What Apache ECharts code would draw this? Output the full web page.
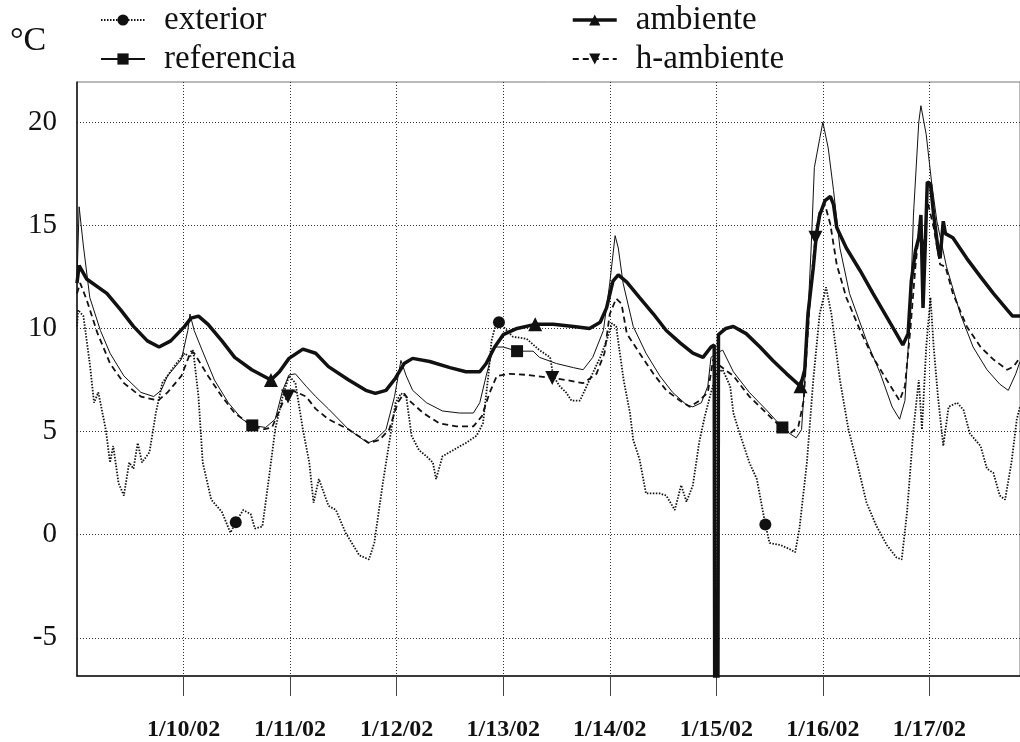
<!DOCTYPE html>
<html>
<head>
<meta charset="UTF-8"/>
<script src="https://cdn.jsdelivr.net/npm/echarts@6/dist/echarts.min.js"></script>
</head>
<body style="margin:0;background:#fff">
<div id="c" style="width:1020px;height:742px;"></div>
<script>
// x = days since 1/9/02 00:00, y = °C
const dayTicks = [1, 2, 3, 4, 5, 6, 7, 8];
const dayLabels = ['1/10/02', '1/11/02', '1/12/02', '1/13/02', '1/14/02', '1/15/02', '1/16/02', '1/17/02'];
const tempTicks = [-5, 0, 5, 10, 15, 20];

const exterior = [
  [0, 10.1], [0.01, 10.9], [0.06, 10.6], [0.12, 8.3], [0.16, 6.4], [0.20, 6.9], [0.27, 5.1], [0.31, 3.5],
  [0.34, 4.3], [0.39, 2.5], [0.44, 1.9], [0.49, 3.5], [0.53, 3.2], [0.57, 4.45], [0.61, 3.5], [0.68, 4.0],
  [0.74, 5.9], [0.80, 7.35], [0.91, 8.15], [1.01, 8.8], [1.06, 8.6], [1.09, 8.95], [1.14, 6.7], [1.18, 3.5],
  [1.26, 1.7], [1.36, 1.1], [1.44, 0.1], [1.49, 0.6], [1.56, 1.2], [1.63, 1.0], [1.67, 0.3], [1.74, 0.4],
  [1.80, 2.7], [1.86, 5.1], [1.93, 6.7], [1.99, 7.7], [2.05, 7.35], [2.12, 5.1], [2.18, 3.5], [2.22, 1.55],
  [2.27, 2.7], [2.36, 1.4], [2.43, 1.2], [2.52, 0.1], [2.65, -1.0], [2.74, -1.2], [2.79, -0.4], [2.87, 2.5],
  [2.93, 4.45], [2.99, 6.4], [3.04, 6.85], [3.09, 6.7], [3.14, 4.8], [3.21, 4.1], [3.28, 3.8], [3.34, 3.5],
  [3.37, 2.7], [3.43, 3.8], [3.53, 4.1], [3.65, 4.45], [3.75, 4.8], [3.81, 5.4], [3.86, 7.7], [3.89, 9.4],
  [3.92, 10.0], [3.96, 10.3], [4.09, 9.6], [4.22, 9.5], [4.34, 8.95], [4.44, 8.6], [4.47, 7.7], [4.53, 7.2],
  [4.59, 6.9], [4.64, 6.5], [4.72, 6.5], [4.81, 7.5], [4.91, 8.6], [4.97, 9.4], [5.02, 10.25], [5.06, 10.1],
  [5.13, 7.5], [5.19, 5.9], [5.22, 4.6], [5.28, 3.65], [5.34, 2.0], [5.41, 2.0], [5.47, 2.0], [5.53, 1.9],
  [5.61, 1.2], [5.67, 2.4], [5.72, 1.6], [5.78, 2.4], [5.84, 4.5], [5.89, 5.7], [5.94, 6.7], [6.0, 7.8],
  [6.06, 8.0], [6.13, 7.2], [6.16, 5.9], [6.22, 4.9], [6.31, 3.5], [6.38, 2.7], [6.46, 0.5], [6.50, -0.4],
  [6.6, -0.5], [6.69, -0.7], [6.74, -0.85], [6.78, 0.3], [6.85, 3.5], [6.91, 7.5], [6.97, 10.7], [7.03, 12.0],
  [7.08, 10.7], [7.16, 7.5], [7.24, 5.1], [7.32, 3.5], [7.41, 1.55], [7.50, 0.45], [7.60, -0.5], [7.69, -1.1],
  [7.74, -1.2], [7.79, 1.1], [7.85, 5.1], [7.90, 7.5], [7.93, 5.1], [7.97, 9.1], [8.01, 11.5], [8.04, 9.1],
  [8.08, 6.7], [8.13, 4.3], [8.18, 6.2], [8.26, 6.4], [8.32, 6.05], [8.38, 4.9], [8.48, 4.3], [8.54, 3.2],
  [8.60, 3.0], [8.66, 1.9], [8.71, 1.7], [8.77, 3.5], [8.82, 5.6], [8.85, 6.2]
];

const referencia = [
  [0, 12.3], [0.02, 15.9], [0.06, 14.0], [0.12, 11.5], [0.22, 9.9], [0.31, 8.8], [0.44, 7.7], [0.60, 6.9],
  [0.72, 6.7], [0.79, 7.0], [0.85, 7.7], [0.98, 8.5], [1.04, 9.9], [1.06, 10.7], [1.10, 9.9], [1.17, 9.0],
  [1.29, 7.5], [1.42, 6.4], [1.55, 5.6], [1.645, 5.3], [1.77, 5.2], [1.86, 5.6], [1.93, 7.0], [1.99, 7.75],
  [2.05, 7.8], [2.15, 7.2], [2.24, 6.7], [2.36, 6.1], [2.55, 5.1], [2.73, 4.45], [2.80, 4.6], [2.90, 5.1],
  [2.98, 6.7], [3.04, 8.45], [3.09, 7.7], [3.15, 7.0], [3.28, 6.4], [3.43, 6.0], [3.59, 5.9], [3.72, 5.9],
  [3.78, 6.4], [3.84, 7.7], [3.91, 9.1], [4.0, 9.1], [4.13, 8.9], [4.28, 8.9], [4.34, 8.6], [4.5, 8.3],
  [4.66, 8.1], [4.75, 8.0], [4.84, 8.6], [4.94, 9.9], [5.0, 12.2], [5.05, 14.5], [5.08, 13.9], [5.125, 12.2],
  [5.22, 10.1], [5.34, 8.8], [5.47, 7.7], [5.59, 6.9], [5.72, 6.3], [5.78, 6.2], [5.86, 6.4], [5.92, 7.2],
  [5.95, 8.6], [6.0, 8.8], [6.06, 8.95], [6.16, 7.9], [6.31, 6.9], [6.47, 6.05], [6.62, 5.2], [6.69, 4.9],
  [6.75, 4.7], [6.8, 5.1], [6.83, 7.5], [6.86, 10.7], [6.89, 13.9], [6.92, 17.8], [6.97, 19.2], [7.0, 20.0],
  [7.05, 18.75], [7.10, 16.7], [7.16, 13.9], [7.25, 11.7], [7.41, 9.4], [7.54, 7.8], [7.65, 6.2], [7.72, 5.6],
  [7.77, 6.5], [7.82, 10.7], [7.85, 15.5], [7.90, 20.0], [7.92, 20.8], [7.97, 19.4], [8.02, 17.1], [8.07, 15.2],
  [8.16, 13.0], [8.29, 10.7], [8.41, 9.1], [8.54, 8.0], [8.66, 7.3], [8.74, 7.0], [8.81, 7.8], [8.85, 8.4]
];

const ambiente = [
  [0, 12.2], [0.02, 13.05], [0.09, 12.4], [0.28, 11.7], [0.41, 10.9], [0.53, 10.1], [0.66, 9.4], [0.77, 9.1],
  [0.88, 9.4], [1.01, 10.1], [1.07, 10.5], [1.14, 10.6], [1.23, 10.2], [1.36, 9.4], [1.48, 8.6], [1.64, 8.0],
  [1.82, 7.5], [1.90, 7.9], [1.99, 8.55], [2.12, 9.0], [2.24, 8.8], [2.36, 8.15], [2.55, 7.5], [2.71, 7.0],
  [2.80, 6.85], [2.90, 7.0], [2.99, 7.6], [3.07, 8.3], [3.15, 8.55], [3.31, 8.4], [3.50, 8.1], [3.65, 7.9],
  [3.78, 7.9], [3.84, 8.3], [3.92, 9.1], [4.0, 9.7], [4.13, 10.0], [4.30, 10.2], [4.47, 10.2], [4.66, 10.1],
  [4.81, 10.0], [4.91, 10.3], [4.97, 11.0], [5.03, 12.3], [5.08, 12.6], [5.16, 12.25], [5.28, 11.5], [5.41, 10.7],
  [5.53, 9.9], [5.66, 9.3], [5.78, 8.8], [5.875, 8.6], [5.95, 9.1], [5.98, 9.2], [5.985, -8], [6.015, -8],
  [6.02, 9.7], [6.09, 10.0], [6.16, 10.1], [6.28, 9.75], [6.41, 9.1], [6.53, 8.45], [6.66, 7.8], [6.79, 7.2],
  [6.83, 8.0], [6.86, 10.7], [6.91, 12.95], [6.94, 14.6], [6.97, 15.5], [7.02, 16.2], [7.07, 16.4], [7.10, 16.0],
  [7.13, 14.9], [7.22, 13.9], [7.35, 12.8], [7.47, 11.7], [7.6, 10.55], [7.69, 9.75], [7.75, 9.2], [7.80, 9.75],
  [7.83, 12.3], [7.87, 13.8], [7.90, 14.4], [7.92, 15.5], [7.94, 11.0], [7.96, 13.9], [7.98, 17.1], [8.01, 17.0],
  [8.04, 15.5], [8.08, 13.9], [8.10, 13.4], [8.13, 15.2], [8.15, 14.6], [8.22, 14.4], [8.35, 13.4], [8.48, 12.5],
  [8.60, 11.7], [8.73, 10.9], [8.78, 10.6], [8.85, 10.6]
];

const hAmbiente = [
  [0, 11.7], [0.03, 12.2], [0.09, 11.4], [0.19, 9.8], [0.31, 8.3], [0.44, 7.35], [0.60, 6.7], [0.76, 6.5],
  [0.85, 6.9], [0.98, 7.7], [1.07, 8.9], [1.10, 8.8], [1.23, 7.7], [1.36, 6.7], [1.48, 5.9], [1.61, 5.4],
  [1.74, 5.1], [1.83, 5.2], [1.93, 6.4], [1.98, 6.7], [2.02, 7.0], [2.15, 6.7], [2.24, 6.1], [2.36, 5.6],
  [2.55, 5.1], [2.74, 4.45], [2.84, 4.6], [2.93, 5.1], [3.01, 6.4], [3.07, 6.85], [3.12, 6.5], [3.25, 5.9],
  [3.40, 5.4], [3.56, 5.25], [3.72, 5.25], [3.80, 5.75], [3.87, 6.85], [3.94, 7.7], [4.06, 7.8], [4.22, 7.75],
  [4.46, 7.6], [4.59, 7.5], [4.75, 7.35], [4.875, 7.8], [4.95, 8.8], [5.0, 10.7], [5.06, 11.45], [5.11, 11.2],
  [5.16, 9.75], [5.28, 8.8], [5.41, 7.8], [5.53, 7.0], [5.66, 6.5], [5.75, 6.2], [5.84, 6.5], [5.92, 6.9],
  [5.97, 8.5], [6.03, 8.2], [6.16, 7.7], [6.31, 6.7], [6.47, 5.9], [6.6, 5.25], [6.69, 4.9], [6.77, 5.25],
  [6.82, 6.5], [6.85, 9.1], [6.89, 12.3], [6.93, 14.4], [6.97, 15.7], [7.02, 16.0], [7.07, 15.05], [7.13, 13.1],
  [7.22, 11.5], [7.35, 9.9], [7.47, 8.6], [7.60, 7.5], [7.72, 6.5], [7.77, 7.2], [7.82, 9.9], [7.87, 13.1],
  [7.91, 15.05], [7.95, 13.9], [7.98, 16.2], [8.04, 14.9], [8.10, 13.1], [8.15, 13.0], [8.22, 11.7], [8.35, 10.1],
  [8.48, 9.1], [8.60, 8.5], [8.73, 8.0], [8.79, 8.15], [8.85, 8.6]
];

// days where each series shows its marker
const exteriorMarks = [1.49, 3.96, 6.46];
const referenciaMarks = [1.645, 4.13, 6.62];
const ambienteMarks = [1.82, 4.30, 6.79];
const hAmbienteMarks = [1.98, 4.46, 6.93];

const serif = 'Liberation Serif';

function mkSeries(name, pts, marks, symbol, size, rotate, lineStyle) {
    return {
        name, type: 'line', symbol, symbolRotate: rotate, symbolSize: 0,
        showSymbol: true, clip: true, z: name === 'ambiente' ? 5 : 3,
        itemStyle: { color: '#111' },
        lineStyle: Object.assign({ color: '#111' }, lineStyle),
        data: pts.map(p => marks.includes(p[0]) ? { value: p, symbolSize: size } : p)
    };
}

const legendText = { fontFamily: serif, fontSize: 33, color: '#111', lineHeight: 38, padding: [0, 0, 0, 14] };

const chart = echarts.init(document.getElementById('c'), null, { renderer: 'canvas' });
chart.setOption({
    animation: false,
    backgroundColor: '#fff',
    grid: { left: 77, right: 0, top: 82, bottom: 65, show: true, borderColor: '#777', borderWidth: 1 },
    graphic: [{ type: 'text', left: 10, top: 24, style: { text: '°C', font: '34px "Liberation Serif"', fill: '#111' } }],
    legend: [
        { data: ['exterior', 'referencia'], orient: 'vertical', left: 95, top: -4, itemWidth: 44, itemHeight: 14, itemGap: 1,
          textStyle: legendText },
        { data: [{ name: 'ambiente', lineStyle: { width: 3.5 } }, 'h-ambiente'], orient: 'vertical', left: 566, top: -4,
          itemWidth: 44, itemHeight: 14, itemGap: 1, textStyle: legendText }
    ],
    xAxis: {
        type: 'value', min: 0, max: 8.85,
        axisLine: { onZero: false, lineStyle: { color: '#111', width: 1.5 } },
        axisTick: { customValues: dayTicks, length: 20, lineStyle: { color: '#444' } },
        axisLabel: {
            customValues: dayTicks, margin: 42,
            formatter: v => dayLabels[dayTicks.indexOf(v)] || '',
            fontFamily: serif, fontSize: 24, fontWeight: 'bold', color: '#111'
        },
        splitLine: { show: true, lineStyle: { color: '#333', type: [1, 2], width: 1 } }
    },
    yAxis: {
        type: 'value', min: -6.85, max: 21.95,
        axisLine: { show: true, onZero: false, lineStyle: { color: '#111', width: 1.5 } },
        axisTick: { show: false, customValues: tempTicks },
        axisLabel: { customValues: tempTicks, margin: 20, fontFamily: serif, fontSize: 29, color: '#111' },
        splitLine: { show: true, lineStyle: { color: '#333', type: [1, 2], width: 1 } }
    },
    series: [
        mkSeries('exterior', exterior, exteriorMarks, 'circle', 12, 0, { width: 1.8, type: [1.5, 1.5] }),
        mkSeries('referencia', referencia, referenciaMarks, 'rect', 12, 0, { width: 1 }),
        mkSeries('ambiente', ambiente, ambienteMarks, 'triangle', 14, 0, { width: 3.5 }),
        mkSeries('h-ambiente', hAmbiente, hAmbienteMarks, 'triangle', 14, 180, { width: 1.8, type: [6, 4] })
    ]
});
</script>
</body>
</html>
